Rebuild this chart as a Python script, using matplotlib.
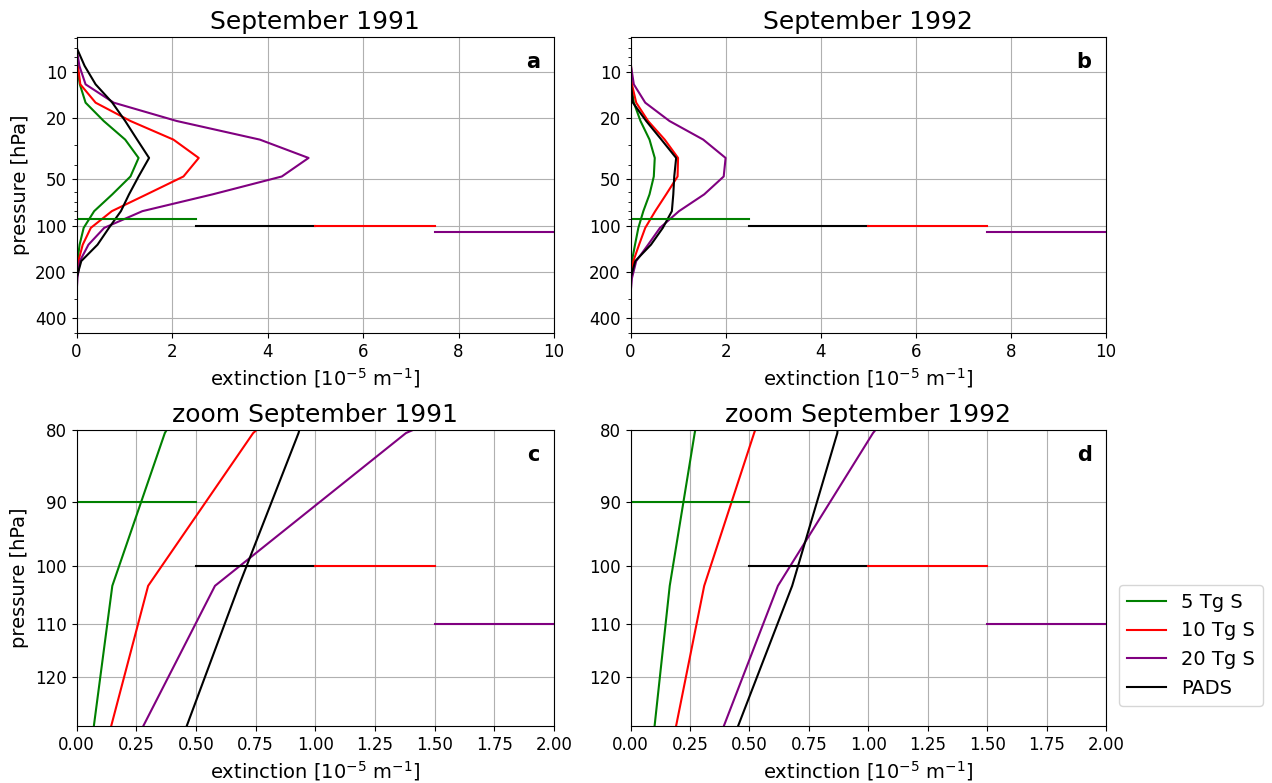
import numpy as np
import matplotlib
matplotlib.use("Agg")
import matplotlib.pyplot as plt
from matplotlib.ticker import ScalarFormatter, NullFormatter, FormatStrFormatter

#%%
# model pressure levels [hPa]
plev = [5.3, 6.9, 9.1, 12.0, 15.8, 20.8, 27.5, 36.2, 47.8, 62.5, 80.4,
        103.3, 133.0, 170.0, 220.0, 280.0, 360.0, 460.0]

# extinction profiles [1e-5 1/m], September 1991
ext91_5tg = [0, 0, 0.01, 0.07, 0.19, 0.57, 1.02, 1.30, 1.13, 0.75, 0.37,
             0.15, 0.065, 0.02, 0, 0, 0, 0]
ext91_10tg = [0, 0, 0.03, 0.08, 0.40, 1.13, 2.03, 2.56, 2.24, 1.47, 0.74,
              0.30, 0.13, 0.04, 0, 0, 0, 0]
ext91_20tg = [0, 0, 0.06, 0.19, 0.78, 2.10, 3.84, 4.86, 4.30, 2.85, 1.38,
              0.58, 0.25, 0.07, 0.02, 0, 0, 0]
ext91_pads = [0, 0, 0.17, 0.40, 0.75, 1.02, 1.27, 1.52, 1.30, 1.10, 0.93,
              0.68, 0.44, 0.10, 0, 0, 0, 0]

# September 1992
ext92_5tg = [0, 0, 0, 0.01, 0.07, 0.21, 0.40, 0.51, 0.49, 0.40, 0.27,
             0.165, 0.095, 0.03, 0, 0, 0, 0]
ext92_10tg = [0, 0, 0.01, 0.03, 0.12, 0.37, 0.72, 1.00, 0.99, 0.75, 0.52,
              0.31, 0.18, 0.06, 0.01, 0, 0, 0]
ext92_20tg = [0, 0, 0.01, 0.07, 0.31, 0.82, 1.53, 2.00, 1.96, 1.55, 1.02,
              0.62, 0.37, 0.12, 0.03, 0, 0, 0]
ext92_pads = [0, 0, 0.01, 0.01, 0.05, 0.33, 0.65, 0.96, 0.92, 0.90, 0.87,
              0.68, 0.43, 0.10, 0, 0, 0, 0]

# tropopause pressure [hPa]
trop_5tg, trop_10tg, trop_20tg, trop_pads = 90, 100, 110, 100

labels = ["5 Tg S", "10 Tg S", "20 Tg S", "PADS"]
colors = ["green", "red", "purple", "black"]

#%%
fig = plt.figure(figsize=(12.72, 7.83), dpi=100)
W, H = 1272., 783.


def add_ax(x0, y0, x1, y1):
    return fig.add_axes([x0 / W, 1 - y1 / H, (x1 - x0) / W, (y1 - y0) / H])


axs = [add_ax(76.5, 37, 554, 333), add_ax(630.5, 37, 1106, 333),
       add_ax(76.5, 430, 554, 726), add_ax(630.5, 430, 1106, 726)]

profiles = [[ext91_5tg, ext91_10tg, ext91_20tg, ext91_pads],
            [ext92_5tg, ext92_10tg, ext92_20tg, ext92_pads]] * 2
trops = [trop_5tg, trop_pads, trop_10tg, trop_20tg]
trop_cols = ["green", "black", "red", "purple"]
titles = ["September 1991", "September 1992",
          "zoom September 1991", "zoom September 1992"]
letters = ["a", "b", "c", "d"]

for i, ax in enumerate(axs):
    for prof, c, lab in zip(profiles[i], colors, labels):
        ax.plot(prof, plev, color=c, label=lab, lw=1.5)
    for k, (tp, c) in enumerate(zip(trops, trop_cols)):
        ax.axhline(tp, k * 0.25, (k + 1) * 0.25, color=c, lw=1.5)
    ax.set_yscale("log")
    if i < 2:
        ax.set_ylim(500, 5.9)
        ax.set_yticks([10, 20, 50, 100, 200, 400])
        ax.set_xlim(0, 10)
        ax.set_xticks(np.arange(0, 11, 2))
    else:
        ax.set_ylim(130, 80)
        ax.set_yticks([80, 90, 100, 110, 120])
        ax.set_xlim(0, 2)
        ax.set_xticks(np.arange(0, 2.01, 0.25))
        ax.xaxis.set_major_formatter(FormatStrFormatter("%.2f"))
    ax.yaxis.set_major_formatter(ScalarFormatter())
    ax.yaxis.set_minor_formatter(NullFormatter())
    ax.tick_params(labelsize=12)
    ax.grid(True)
    ax.set_title(titles[i], fontsize=18)
    ax.set_xlabel(r"extinction [10$^{-5}$ m$^{-1}$]", fontsize=14)
    if i % 2 == 0:
        ax.set_ylabel("pressure [hPa]", fontsize=14)
    ax.text(0.97, 0.915, letters[i], transform=ax.transAxes, ha="right",
            va="center", fontsize=15, fontweight="bold")

handles, labs = axs[3].get_legend_handles_labels()
fig.legend(handles, labs, loc="upper left", bbox_to_anchor=(1119 / W, 1 - 585 / H),
           borderaxespad=0, fontsize=14)

fig.savefig("out.png", dpi=100)
